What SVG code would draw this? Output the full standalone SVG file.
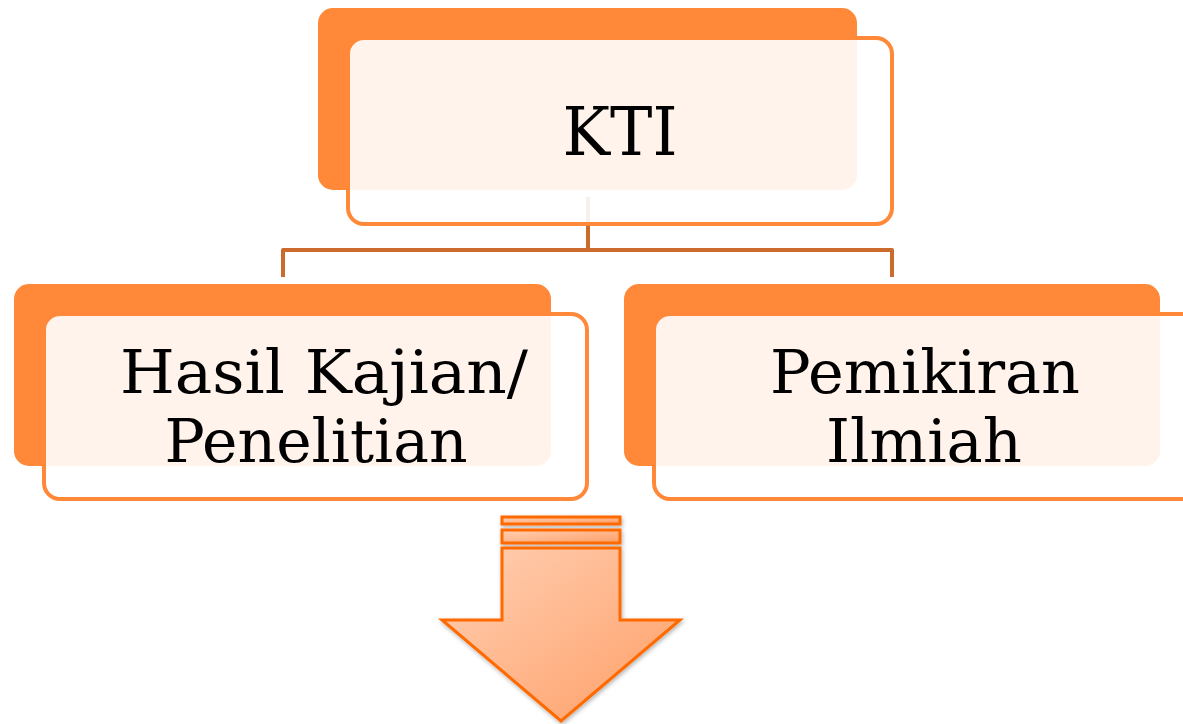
<svg xmlns="http://www.w3.org/2000/svg" width="1183" height="724" viewBox="0 0 1183 724">
<defs>
<style>
.back{fill:#FF8839;}
.front{fill:#FFFFFF;fill-opacity:0.9;stroke:#FF8839;stroke-width:4;}
.lbl{font-family:"DejaVu Serif","Liberation Serif",serif;font-size:59px;fill:#000;text-anchor:middle;}
.big{font-size:68px;}
.conn{fill:none;stroke:#CC6B2E;stroke-width:4;stroke-linejoin:round;}
.arr{fill:url(#ag);stroke:#FF6A00;stroke-width:3;}
</style>
<linearGradient id="ag" x1="0" y1="0" x2="1" y2="1">
<stop offset="0" stop-color="#FFD0B4"/>
<stop offset="1" stop-color="#FF9E66"/>
</linearGradient>
<filter id="sh" x="-10%" y="-10%" width="130%" height="130%">
<feDropShadow dx="1" dy="2" stdDeviation="2" flood-color="#000" flood-opacity="0.3"/>
</filter>
</defs>
<rect width="1183" height="724" fill="#FFFFFF"/>
<g id="connectors">
<path class="conn" d="M588 197 V249 M283 277 V250 H892 V277"/>
</g>
<g id="node-kti">
<rect class="back" x="318" y="8" width="539" height="182" rx="15"/>
<rect class="front" x="348" y="38" width="544" height="186" rx="16"/>
<text class="lbl big" x="620" y="155" textLength="115" lengthAdjust="spacingAndGlyphs">KTI</text>
</g>
<g id="node-hasil">
<rect class="back" x="14" y="284" width="537" height="182" rx="15"/>
<rect class="front" x="44" y="314" width="543" height="185" rx="16"/>
<text class="lbl" x="324" y="393" textLength="408" lengthAdjust="spacingAndGlyphs">Hasil Kajian/</text>
<text class="lbl" x="316" y="462" textLength="303" lengthAdjust="spacingAndGlyphs">Penelitian</text>
</g>
<g id="node-pemikiran">
<rect class="back" x="624" y="284" width="536" height="182" rx="15"/>
<rect class="front" x="654" y="314" width="544" height="185" rx="16"/>
<text class="lbl" x="925" y="393" textLength="310" lengthAdjust="spacingAndGlyphs">Pemikiran</text>
<text class="lbl" x="924" y="462" textLength="196" lengthAdjust="spacingAndGlyphs">Ilmiah</text>
</g>
<g id="arrow" filter="url(#sh)">
<rect class="arr" x="502" y="517" width="118" height="7"/>
<rect class="arr" x="502" y="530" width="118" height="13"/>
<path class="arr" d="M502 548 H620 V620 H680 L561 721 L442 620 H502 Z"/>
</g>
</svg>
